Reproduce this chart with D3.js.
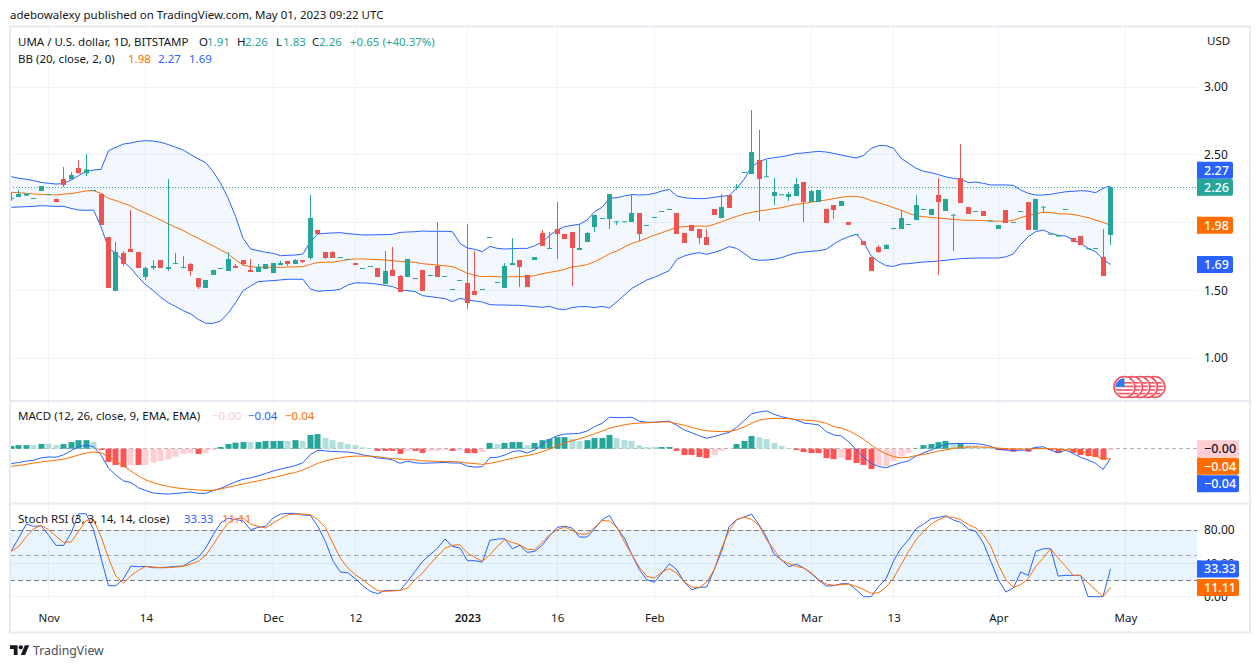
<!DOCTYPE html>
<html>
<head>
<meta charset="utf-8">
<script src="https://cdn.jsdelivr.net/npm/d3@7"></script>
<style>
  html, body { margin: 0; padding: 0; background: #fff; }
  svg { display: block; }
  text { font-family: "Noto Sans", sans-serif; }
</style>
</head>
<body>
<div id="root"></div>
<script>
const opens = [2.176,2.188,2.198,2.176,2.233,2.205,2.174,2.321,2.319,2.402,2.363,2.235,2.210,1.893,1.495,1.775,1.805,1.782,1.598,1.664,1.723,1.657,1.696,1.667,1.694,1.590,1.517,1.613,1.659,1.642,1.679,1.723,1.650,1.635,1.657,1.627,1.686,1.716,1.694,1.723,1.738,1.945,
  1.782,1.782,1.741,1.726,1.701,1.659,1.674,1.664,1.546,1.650,1.605,1.598,1.586,1.650,1.608,1.679,1.600,1.504,1.571,1.554,1.495,1.504,1.888,1.556,1.517,1.686,1.723,1.613,1.723,1.923,1.807,1.952,1.915,1.930,1.797,1.856,1.967,2.028,2.026,2.004,2.004,2.004,
  2.070,1.977,2.036,2.080,2.095,2.070,1.923,1.982,1.952,1.893,2.100,2.033,2.203,2.260,2.368,2.358,2.461,2.336,2.196,2.203,2.188,2.196,2.299,2.151,2.151,2.100,2.129,2.122,2.004,1.910,1.863,1.745,1.819,1.804,1.954,1.952,1.984,2.018,
  2.095,2.055,2.203,2.085,2.053,2.328,2.114,2.080,2.085,2.009,1.952,2.092,1.999,2.080,2.151,1.945,2.112,1.913,1.896,2.095,1.886,1.900,1.805,1.807,1.746,1.908];
const highs = [2.220,2.240,2.213,2.181,2.269,2.210,2.174,2.410,2.373,2.461,2.506,2.240,2.210,1.893,1.856,1.790,2.092,1.782,1.672,1.723,1.723,2.321,1.775,1.753,1.701,1.590,1.576,1.650,1.664,1.782,1.694,1.723,1.731,1.694,1.694,1.701,1.716,1.716,1.731,1.723,2.203,1.945,
  1.782,1.790,1.745,1.731,1.701,1.664,1.679,1.664,1.790,1.819,1.613,1.731,1.590,1.650,1.613,2.004,1.605,1.509,1.576,1.989,1.790,1.509,1.893,1.561,1.701,1.886,1.723,1.613,1.745,1.945,1.930,2.151,1.915,1.930,1.989,1.930,2.055,2.033,2.210,2.009,2.009,2.203,
  2.070,1.982,2.041,2.085,2.100,2.070,1.923,1.982,1.952,1.952,2.100,2.210,2.203,2.284,2.373,2.830,2.683,2.461,2.328,2.208,2.225,2.328,2.299,2.240,2.240,2.100,2.129,2.159,2.004,1.915,1.863,1.745,1.834,1.841,1.959,2.092,1.989,2.203,
  2.100,2.100,2.328,2.174,2.063,2.579,2.114,2.085,2.085,2.014,1.982,2.092,2.004,2.085,2.151,2.174,2.117,1.918,1.905,2.100,1.886,1.900,1.809,1.812,1.952,2.26];
const lows = [2.161,2.188,2.198,2.176,2.233,2.205,2.151,2.260,2.314,2.363,2.343,2.235,1.982,1.517,1.495,1.679,1.782,1.664,1.576,1.650,1.664,1.642,1.694,1.664,1.605,1.509,1.517,1.613,1.659,1.642,1.664,1.679,1.635,1.635,1.657,1.627,1.686,1.679,1.694,1.701,1.723,1.915,
  1.731,1.738,1.741,1.726,1.686,1.659,1.674,1.598,1.546,1.605,1.487,1.598,1.586,1.495,1.608,1.598,1.600,1.504,1.571,1.362,1.465,1.504,1.888,1.556,1.517,1.686,1.524,1.524,1.723,1.827,1.804,1.731,1.878,1.531,1.797,1.856,1.930,2.028,1.952,1.982,2.004,2.004,
  1.863,1.977,2.036,2.080,2.095,1.915,1.849,1.937,1.841,1.834,2.055,2.033,2.107,2.240,2.368,2.358,2.011,2.336,2.129,2.203,2.159,2.196,2.004,2.151,2.151,1.996,2.026,2.122,1.982,1.910,1.834,1.642,1.775,1.804,1.950,1.952,1.984,2.018,
  2.095,2.055,1.613,2.085,1.790,2.144,2.063,2.080,2.048,2.009,1.952,1.996,1.999,2.080,1.945,1.945,2.070,1.913,1.896,2.095,1.856,1.834,1.805,1.807,1.605,1.834];
const closes = [2.181,2.210,2.213,2.181,2.269,2.210,2.151,2.277,2.351,2.363,2.392,2.240,1.982,1.517,1.782,1.694,1.782,1.664,1.664,1.679,1.664,1.672,1.701,1.672,1.642,1.524,1.576,1.650,1.664,1.731,1.664,1.694,1.635,1.672,1.694,1.701,1.701,1.694,1.723,1.709,2.033,1.915,
  1.738,1.738,1.745,1.731,1.686,1.664,1.679,1.598,1.642,1.605,1.487,1.731,1.590,1.495,1.613,1.598,1.605,1.509,1.576,1.406,1.465,1.509,1.893,1.561,1.679,1.701,1.672,1.524,1.745,1.827,1.812,1.915,1.878,1.812,1.812,1.923,2.055,2.033,2.210,2.009,2.009,2.070,
  1.915,1.982,2.041,2.085,2.100,1.915,1.849,1.937,1.886,1.834,2.055,2.114,2.107,2.264,2.373,2.520,2.321,2.341,2.225,2.208,2.210,2.284,2.151,2.232,2.240,1.996,2.092,2.159,1.982,1.915,1.834,1.642,1.782,1.834,1.959,2.033,1.989,2.129,
  2.100,2.100,2.151,2.174,2.058,2.144,2.063,2.085,2.048,2.014,1.982,1.996,2.004,2.085,1.945,2.174,2.117,1.918,1.905,2.100,1.856,1.834,1.809,1.812,1.605,2.26];

const bbUpper = [2.338,2.326,2.319,2.309,2.296,2.289,2.284,2.287,2.314,2.346,2.378,2.387,2.392,2.530,2.555,2.579,2.587,2.599,2.604,2.601,2.592,2.575,2.555,2.535,2.501,2.469,2.442,2.375,2.289,2.178,2.043,1.883,1.805,1.792,1.780,1.773,1.755,1.758,1.760,1.768,1.859,1.915,
  1.920,1.923,1.925,1.918,1.913,1.908,1.908,1.910,1.910,1.913,1.927,1.930,1.932,1.937,1.935,1.935,1.935,1.932,1.846,1.812,1.802,1.785,1.824,1.809,1.804,1.807,1.809,1.809,1.829,1.856,1.905,1.945,1.969,1.979,1.987,2.019,2.080,2.112,2.178,2.183,2.196,2.206,
  2.203,2.205,2.215,2.232,2.245,2.196,2.183,2.178,2.176,2.178,2.186,2.193,2.200,2.252,2.319,2.412,2.449,2.469,2.478,2.486,2.496,2.510,2.513,2.520,2.525,2.520,2.510,2.498,2.486,2.476,2.496,2.547,2.567,2.567,2.547,2.474,2.437,2.400,
  2.378,2.368,2.353,2.336,2.326,2.319,2.294,2.299,2.289,2.277,2.277,2.277,2.274,2.240,2.215,2.203,2.203,2.208,2.218,2.227,2.230,2.235,2.232,2.220,2.252,2.27];
const bbBasis = [2.223,2.220,2.215,2.210,2.208,2.205,2.203,2.210,2.213,2.223,2.233,2.235,2.215,2.178,2.161,2.141,2.122,2.092,2.068,2.043,2.018,1.989,1.964,1.940,1.910,1.883,1.854,1.827,1.797,1.768,1.723,1.686,1.674,1.669,1.672,1.669,1.669,1.672,1.672,1.674,1.691,1.706,
  1.706,1.708,1.716,1.726,1.731,1.731,1.728,1.726,1.723,1.718,1.713,1.711,1.706,1.696,1.691,1.686,1.681,1.674,1.652,1.625,1.610,1.600,1.603,1.600,1.598,1.600,1.600,1.600,1.608,1.622,1.632,1.642,1.654,1.672,1.679,1.689,1.711,1.738,1.770,1.790,1.819,1.846,
  1.863,1.886,1.905,1.925,1.945,1.964,1.969,1.972,1.974,1.972,1.986,2.006,2.026,2.045,2.063,2.075,2.085,2.092,2.102,2.109,2.122,2.134,2.141,2.151,2.159,2.166,2.176,2.186,2.193,2.193,2.183,2.161,2.146,2.129,2.109,2.090,2.068,2.050,
  2.043,2.038,2.033,2.028,2.023,2.018,2.016,2.016,2.014,2.011,2.009,2.009,2.016,2.036,2.053,2.063,2.075,2.073,2.065,2.063,2.060,2.048,2.036,2.018,2.001,1.98];
const bbLower = [2.112,2.114,2.117,2.119,2.124,2.122,2.119,2.119,2.104,2.092,2.090,2.092,1.969,1.809,1.773,1.711,1.662,1.595,1.539,1.497,1.448,1.408,1.379,1.349,1.325,1.285,1.256,1.256,1.273,1.330,1.408,1.497,1.531,1.563,1.568,1.571,1.576,1.581,1.581,1.581,1.509,1.492,
  1.497,1.499,1.507,1.539,1.554,1.554,1.551,1.544,1.536,1.527,1.504,1.497,1.490,1.460,1.453,1.445,1.438,1.416,1.440,1.428,1.421,1.413,1.394,1.391,1.391,1.389,1.389,1.384,1.379,1.374,1.381,1.362,1.357,1.372,1.379,1.379,1.372,1.381,1.369,1.416,1.465,1.514,
  1.544,1.576,1.595,1.620,1.645,1.728,1.753,1.768,1.777,1.765,1.779,1.797,1.822,1.809,1.772,1.731,1.721,1.723,1.728,1.740,1.760,1.775,1.782,1.787,1.792,1.802,1.841,1.873,1.895,1.913,1.851,1.753,1.711,1.681,1.676,1.694,1.696,1.703,
  1.709,1.711,1.716,1.721,1.728,1.733,1.736,1.738,1.738,1.738,1.738,1.746,1.768,1.839,1.895,1.932,1.945,1.920,1.905,1.900,1.871,1.846,1.809,1.785,1.728,1.69];

const macdHist = [0.010,0.013,0.013,0.013,0.017,0.018,0.013,0.017,0.024,0.031,0.031,0.024,-0.005,-0.048,-0.059,-0.067,-0.059,-0.059,-0.059,-0.051,-0.045,-0.038,-0.029,-0.019,-0.016,-0.019,-0.016,-0.005,0.006,0.017,0.022,0.024,0.024,0.024,0.028,0.028,0.028,0.028,0.031,0.028,0.050,0.053,0.039,0.031,0.024,0.017,0.013,0.005,0.002,-0.008,-0.008,-0.008,-0.019,-0.008,-0.008,
  -0.015,-0.008,-0.008,-0.005,-0.008,-0.005,-0.016,-0.016,-0.012,0.021,0.017,0.021,0.024,0.024,0.013,0.021,0.031,0.035,0.042,0.042,0.035,0.028,0.031,0.039,0.039,0.050,0.039,0.031,0.028,0.013,0.006,0.006,0.006,0.006,-0.008,-0.023,-0.023,-0.030,-0.034,-0.023,-0.008,-0.001,0.017,0.028,0.046,0.042,0.035,0.021,0.010,0.002,-0.005,-0.012,-0.016,-0.016,-0.034,-0.038,
  -0.033,-0.041,-0.052,-0.059,-0.074,-0.063,-0.063,-0.045,-0.027,-0.016,0.001,0.013,0.017,0.024,0.028,0.019,0.019,0.013,0.011,0.007,0.002,-0.005,-0.005,-0.011,-0.005,-0.011,0.005,0.002,-0.005,-0.015,-0.005,-0.015,-0.023,-0.027,-0.030,-0.040,-0.005];
// 1 = full colour bar, 0 = pale bar
const macdHistStrong = [1,1,1,0,1,0,0,1,1,1,1,0,1,1,1,1,0,1,0,0,0,0,0,0,0,1,0,0,1,1,1,1,0,1,1,1,1,0,1,0,1,1,0,0,0,0,0,0,0,1,1,1,1,0,1,
  1,0,0,0,1,0,1,1,0,1,0,1,1,1,0,1,1,1,1,1,0,0,1,1,1,1,0,0,0,0,0,0,1,1,1,1,1,1,1,0,0,0,1,1,1,0,0,0,0,0,1,1,1,1,1,1,
  0,1,1,1,1,0,0,0,0,0,1,1,1,1,1,0,1,0,0,0,0,1,1,1,0,1,1,0,1,1,0,1,1,1,1,1,0];
const macdLine = [-0.054,-0.050,-0.045,-0.042,-0.033,-0.030,-0.031,-0.022,-0.007,0.007,0.013,0.007,-0.023,-0.071,-0.096,-0.117,-0.123,-0.142,-0.152,-0.161,-0.163,-0.165,-0.162,-0.160,-0.157,-0.162,-0.162,-0.152,-0.144,-0.132,-0.120,-0.111,-0.106,-0.099,-0.090,-0.081,-0.074,-0.068,-0.061,-0.051,-0.021,-0.006,-0.008,-0.010,-0.011,-0.012,-0.016,-0.022,-0.027,-0.034,-0.036,-0.041,-0.053,-0.045,-0.051,
  -0.053,-0.052,-0.051,-0.050,-0.052,-0.052,-0.063,-0.067,-0.065,-0.033,-0.031,-0.023,-0.011,-0.007,-0.015,-0.005,0.016,0.034,0.047,0.053,0.054,0.056,0.064,0.080,0.092,0.114,0.113,0.113,0.114,0.100,0.096,0.096,0.098,0.100,0.085,0.068,0.058,0.047,0.038,0.044,0.052,0.059,0.077,0.102,0.127,0.133,0.137,0.125,0.116,0.110,0.104,0.093,0.090,0.086,0.062,0.050,
  0.046,0.025,-0.005,-0.031,-0.053,-0.065,-0.069,-0.059,-0.051,-0.044,-0.027,-0.015,-0.005,0.007,0.016,0.019,0.019,0.019,0.018,0.015,0.008,-0.002,-0.005,-0.007,-0.005,-0.005,0.005,0.007,-0.005,-0.015,-0.005,-0.017,-0.031,-0.041,-0.053,-0.075,-0.036];
const macdSignal = [-0.064,-0.061,-0.057,-0.052,-0.048,-0.045,-0.042,-0.038,-0.031,-0.023,-0.016,-0.012,-0.015,-0.029,-0.045,-0.063,-0.081,-0.099,-0.114,-0.123,-0.131,-0.137,-0.142,-0.145,-0.148,-0.150,-0.152,-0.151,-0.146,-0.140,-0.134,-0.128,-0.122,-0.117,-0.111,-0.105,-0.099,-0.092,-0.086,-0.077,-0.065,-0.053,-0.044,-0.038,-0.033,-0.029,-0.027,-0.027,-0.027,-0.029,-0.033,-0.036,-0.038,-0.039,-0.041,
  -0.044,-0.045,-0.046,-0.047,-0.047,-0.048,-0.052,-0.054,-0.057,-0.053,-0.048,-0.041,-0.035,-0.029,-0.025,-0.019,-0.011,-0.001,0.011,0.021,0.029,0.036,0.045,0.054,0.064,0.074,0.081,0.087,0.091,0.093,0.094,0.096,0.097,0.097,0.091,0.085,0.077,0.070,0.065,0.063,0.062,0.063,0.068,0.079,0.092,0.104,0.108,0.110,0.110,0.109,0.106,0.104,0.102,0.099,0.092,0.080,
  0.075,0.065,0.051,0.034,0.013,-0.005,-0.019,-0.029,-0.033,-0.031,-0.025,-0.021,-0.015,-0.008,-0.004,0.001,0.005,0.006,0.007,0.006,0.005,0.002,0,-0.001,-0.001,-0.002,0,0.001,0,-0.002,-0.004,-0.005,-0.011,-0.017,-0.027,-0.038,-0.036];

const stochK = [55.2,70.4,87.2,84.4,85.2,73.6,61.6,61.6,76.4,99.6,99.6,80.4,46.4,13.2,13.2,21.6,36.8,36,36.4,34.8,34.8,35.6,36.4,36.8,42.4,47.2,58.4,74.4,88.4,94.4,92.4,91.2,80.4,83.2,84.4,94.4,99.2,100,100,98,97.6,84.4,66.4,43.2,29.6,28.8,21.6,13.2,6.4,3.6,7.6,7.6,7.6,18.4,30.4,
  42.4,50.4,58.4,69.2,60.4,58.4,43.2,43.2,41.6,67.6,69.2,69.6,57.6,61.6,53.2,54.4,61.6,73.2,83.2,84.8,82.4,71.6,71.6,81.6,92.4,97.6,82.4,70.4,50.4,32.4,20.4,17.2,28.4,39.6,32.4,17.6,8.4,11.2,11.6,32.4,54.4,84.4,92.4,95.6,99.2,86.4,71.6,51.2,44.4,36,39.2,34.4,27.6,19.6,12.8,13.2,
  15.6,15.6,8.4,0,0,12.4,21.6,43.2,58.4,68.4,81.6,87.2,93.6,95.2,97.2,92,89.2,81.2,78.4,64.4,42.4,20.4,5.6,10.4,29.6,25.6,54.4,57.6,57.6,24.8,25.6,25.6,25.6,0,0,0,33.33];
const stochD = [54.4,60.4,72,81.6,85.6,80.4,72.4,65.2,65.6,78.4,91.6,92.4,72.4,46.4,24.4,16.4,25.2,31.6,36.4,35.6,34.8,34.8,35.6,36.4,39.2,42.4,49.6,62.4,76.4,88.4,93.6,94.4,87.2,84.4,82.4,88.4,93.6,98.4,99.2,99.2,98.4,92.4,83.2,64.4,46.4,34.4,26.4,20.4,13.2,7.2,6.4,6.8,7.6,10.4,20.4,
  28.4,39.2,48.4,58.4,61.6,62.4,52.4,47.2,42.4,50.4,60.4,68.4,65.2,62.4,56.8,56.4,65.2,74.4,80.4,83.6,79.6,75.2,75.2,83.2,91.6,90.8,83.6,65.6,50.4,35.2,24.4,22.4,29.6,33.6,28.4,17.6,11.6,10.8,17.6,32.4,58.4,79.2,92.4,95.6,92.8,85.6,68.4,56.4,43.6,39.6,36.4,34.4,28.4,20.4,15.2,13.6,
  14.4,15.2,12.4,8.4,4,4.8,11.6,22.4,38.4,54.4,68.4,78.4,87.2,92.4,96,95.2,92.4,86.4,82.4,74.4,60.4,38.4,20.4,11.2,14.4,21.6,36.4,46.4,57.6,46.4,36.4,25.6,25.6,16.4,8.4,0,11.11];

const timeIdx = [5,18,35,46,61,73,86,107,118,132,149];
const timeLabels = ["Nov","14","Dec","12","2023","16","Feb","Mar","13","Apr","May"];
const priceTicks = [3,2.5,2,1.5,1];
const priceLabelTicks = [3,2.5,1.5,1];
const stochTicks = [80,40,0];
const stochBands = [80,50,20];
const flagIdx = [149,150,151,152,153];

const w = 1260;
const h = 668;
const plotL = 10;
const plotR = 1197;
const frameR = 1250;
const green = "#26a69a";
const red = "#ef5350";
const blue = "#2962ff";
const orange = "#ff6d00";
const inkColor = "#131722";
const gridColor = "#f0f3fa";
const frameColor = "#e8eaf2";
const font = 11.5;

const svg = d3.select("#root")
  .append("svg")
  .attr("width", w)
  .attr("height", h);

const x = d3.scaleLinear().domain([0, 147]).range([11.3, 1110.5]);
const yPrice = d3.scaleLinear().domain([1, 3]).range([358, 87]);
const yMacd = d3.scaleLinear().domain([-0.2, 0.2]).range([503.8, 393.6]);
const yStoch = d3.scaleLinear().domain([0, 100]).range([596.7, 513.4]);
const pixel = v => Math.round(v - 0.5) + 0.5;

function addClip(id, top, bottom) {
  svg.append("clipPath").attr("id", id)
    .append("rect")
    .attr("x", plotL).attr("y", top)
    .attr("width", plotR - plotL).attr("height", bottom - top);
}
addClip("clip-price", 27, 400);
addClip("clip-macd", 402, 503);
addClip("clip-stoch", 505, 600);

// vertical grid runs through all panes
svg.append("g").selectAll("line")
  .data(timeIdx)
  .enter()
  .append("line")
  .attr("x1", d => pixel(x(d)))
  .attr("x2", d => pixel(x(d)))
  .attr("y1", 27)
  .attr("y2", 600)
  .attr("stroke", gridColor);

function hGrid(ticks, scale) {
  svg.append("g").selectAll("line")
    .data(ticks)
    .enter()
    .append("line")
    .attr("x1", plotL)
    .attr("x2", plotR)
    .attr("y1", d => pixel(scale(d)))
    .attr("y2", d => pixel(scale(d)))
    .attr("stroke", gridColor);
}
hGrid(priceTicks, yPrice);
hGrid(stochTicks, yStoch);

// price pane
const pricePane = svg.append("g").attr("clip-path", "url(#clip-price)");

pricePane.append("path")
  .datum(d3.range(opens.length))
  .attr("fill", "#2979ff")
  .attr("fill-opacity", 0.055)
  .attr("d", d3.area().x(i => x(i)).y0(i => yPrice(bbLower[i])).y1(i => yPrice(bbUpper[i])));

function drawLine(parent, values, scale, color, width) {
  parent.append("path")
    .datum(values)
    .attr("fill", "none")
    .attr("stroke", color)
    .attr("stroke-width", width)
    .attr("d", d3.line().x((d, i) => x(i)).y(d => scale(d)));
}
drawLine(pricePane, bbUpper, yPrice, blue, 1);
drawLine(pricePane, bbLower, yPrice, blue, 1);
drawLine(pricePane, bbBasis, yPrice, orange, 1);

pricePane.append("line")
  .attr("x1", plotL)
  .attr("x2", plotR)
  .attr("y1", pixel(yPrice(2.26)))
  .attr("y2", pixel(yPrice(2.26)))
  .attr("stroke", green)
  .attr("stroke-dasharray", "1 2");

const candleColor = i => closes[i] >= opens[i] ? green : red;

pricePane.append("g").selectAll("line")
  .data(d3.range(opens.length))
  .enter()
  .append("line")
  .attr("x1", i => pixel(x(i)))
  .attr("x2", i => pixel(x(i)))
  .attr("y1", i => yPrice(highs[i]))
  .attr("y2", i => yPrice(lows[i]))
  .attr("stroke", candleColor);

pricePane.append("g").selectAll("rect")
  .data(d3.range(opens.length))
  .enter()
  .append("rect")
  .attr("x", i => pixel(x(i)) - 2.5)
  .attr("width", 5)
  .attr("y", i => yPrice(Math.max(opens[i], closes[i])))
  .attr("height", i => Math.max(1, Math.abs(yPrice(opens[i]) - yPrice(closes[i]))))
  .attr("fill", candleColor);

// event flags, leftmost sits on top
const flags = svg.append("g");
flagIdx.slice().reverse().forEach(d => {
  const cx = x(d) - 1;
  const cy = 387;
  const id = "flag-" + d;
  svg.append("clipPath").attr("id", id)
    .append("circle").attr("cx", cx).attr("cy", cy).attr("r", 9);
  const flag = flags.append("g");
  flag.append("circle").attr("cx", cx).attr("cy", cy).attr("r", 10.5)
    .attr("fill", "#fff").attr("stroke", "#f7525f").attr("stroke-width", 1.6);
  const inner = flag.append("g").attr("clip-path", `url(#${id})`);
  d3.range(4).forEach(k => {
    inner.append("rect")
      .attr("x", cx - 10).attr("width", 20)
      .attr("y", cy - 5 + k * 3.6).attr("height", 1.6)
      .attr("fill", "#f7525f");
  });
  inner.append("rect")
    .attr("x", cx - 10).attr("y", cy - 10)
    .attr("width", 10).attr("height", 10)
    .attr("fill", "#3179f5");
});

// macd pane
const macdPane = svg.append("g").attr("clip-path", "url(#clip-macd)");

macdPane.append("line")
  .attr("x1", plotL)
  .attr("x2", plotR)
  .attr("y1", pixel(yMacd(0)))
  .attr("y2", pixel(yMacd(0)))
  .attr("stroke", "#787b86")
  .attr("stroke-opacity", 0.6)
  .attr("stroke-dasharray", "4 3");

macdPane.append("g").selectAll("rect")
  .data(macdHist)
  .enter()
  .append("rect")
  .attr("x", (d, i) => pixel(x(i)) - 3)
  .attr("width", 6)
  .attr("y", d => yMacd(Math.max(d, 0)))
  .attr("height", d => Math.abs(yMacd(d) - yMacd(0)))
  .attr("fill", (d, i) => {
    if (d >= 0) return macdHistStrong[i] ? green : "#b2dfdb";
    return macdHistStrong[i] ? "#ff5252" : "#ffcdd2";
  });

drawLine(macdPane, macdLine, yMacd, blue, 1);
drawLine(macdPane, macdSignal, yMacd, orange, 1);

// stoch pane
const stochPane = svg.append("g").attr("clip-path", "url(#clip-stoch)");

stochPane.append("rect")
  .attr("x", plotL)
  .attr("width", plotR - plotL)
  .attr("y", yStoch(80))
  .attr("height", yStoch(20) - yStoch(80))
  .attr("fill", "#2196f3")
  .attr("fill-opacity", 0.1);

stochPane.append("g").selectAll("line")
  .data(stochBands)
  .enter()
  .append("line")
  .attr("x1", plotL)
  .attr("x2", plotR)
  .attr("y1", d => pixel(yStoch(d)))
  .attr("y2", d => pixel(yStoch(d)))
  .attr("stroke", "#787b86")
  .attr("stroke-opacity", d => d === 50 ? 0.6 : 1)
  .attr("stroke-dasharray", "5 3");

drawLine(stochPane, stochK, yStoch, blue, 1);
drawLine(stochPane, stochD, yStoch, orange, 1);

// frame and pane separators
svg.append("rect")
  .attr("x", 10)
  .attr("y", 26.5)
  .attr("width", frameR - 10)
  .attr("height", 606)
  .attr("fill", "none")
  .attr("stroke", frameColor)
  .attr("stroke-width", 2);

svg.append("g").selectAll("line")
  .data([401, 503.5])
  .enter()
  .append("line")
  .attr("x1", 10)
  .attr("x2", frameR)
  .attr("y1", d => d)
  .attr("y2", d => d)
  .attr("stroke", frameColor)
  .attr("stroke-width", 2);

// axes
function rightAxis(scale, ticks) {
  const axis = svg.append("g")
    .attr("transform", `translate(${plotR}, 0)`)
    .call(d3.axisRight(scale).tickValues(ticks).tickSize(0).tickPadding(7).tickFormat(d3.format(".2f")));
  axis.select(".domain").remove();
  axis.selectAll("text").attr("fill", inkColor).style("font-size", "12px").style("font-family", '"Noto Sans", sans-serif');
}
rightAxis(yPrice, priceLabelTicks);
rightAxis(yStoch, stochTicks);

const timeAxis = svg.append("g")
  .attr("transform", "translate(0, 611)")
  .call(d3.axisBottom(x).tickValues(timeIdx).tickSize(0).tickPadding(3).tickFormat((d, i) => timeLabels[i]));
timeAxis.select(".domain").remove();
timeAxis.selectAll("text")
  .attr("fill", inkColor)
  .style("font-size", font + "px")
  .style("font-family", '"Noto Sans", sans-serif')
  .style("font-weight", d => d === 61 ? 600 : 400);

// last value tags, square on the axis side and rounded on the other
function tag(cy, width, color, label, textColor) {
  svg.append("rect")
    .attr("x", plotR)
    .attr("y", cy - 8.5)
    .attr("width", width)
    .attr("height", 17)
    .attr("rx", 2)
    .attr("fill", color);
  svg.append("rect")
    .attr("x", plotR)
    .attr("y", cy - 8.5)
    .attr("width", 4)
    .attr("height", 17)
    .attr("fill", color);
  svg.append("text")
    .attr("x", plotR + 7)
    .attr("y", cy + 4.5)
    .attr("font-size", 12.5)
    .attr("font-weight", 500)
    .attr("fill", textColor)
    .text(label);
}
tag(yPrice(2.26) - 17, 36, blue, "2.27", "#fff");
tag(yPrice(2.26), 36, green, "2.26", "#fff");
tag(yPrice(1.98), 36, orange, "1.98", "#fff");
tag(yPrice(1.69), 36, blue, "1.69", "#fff");
tag(yMacd(0), 42, "#ffcdd2", "\u22120.00", inkColor);
tag(yMacd(0) + 17.5, 42, orange, "\u22120.04", "#fff");
tag(yMacd(0) + 35, 42, blue, "\u22120.04", "#fff");
tag(yStoch(33.33), 42, blue, "33.33", "#fff");
tag(yStoch(11.11), 42, orange, "11.11", "#fff");

// header and legends
function label(px, py, str, color) {
  svg.append("text")
    .attr("x", px)
    .attr("y", py)
    .attr("font-size", font)
    .attr("fill", color || inkColor)
    .text(str);
}
label(10, 19, "adebowalexy published on TradingView.com, May 01, 2023 09:22 UTC");
label(18, 46, "UMA / U.S. dollar, 1D, BITSTAMP");
label(199, 46, "O");
label(207, 46, "1.91", green);
label(237, 46, "H");
label(245, 46, "2.26", green);
label(276, 46, "L");
label(283, 46, "1.83", green);
label(312, 46, "C");
label(319, 46, "2.26", green);
label(350, 46, "+0.65 (+40.37%)", green);
label(18, 63, "BB (20, close, 2, 0)");
label(128, 63, "1.98", orange);
label(158, 63, "2.27", blue);
label(189, 63, "1.69", blue);
label(1207, 45, "USD");
label(18, 420, "MACD (12, 26, close, 9, EMA, EMA)");
label(212, 420, "\u22120.00", "#ffcdd2");
label(248, 420, "\u22120.04", blue);
label(285, 420, "\u22120.04", orange);
label(18, 523, "Stoch RSI (3, 3, 14, 14, close)");
label(184, 523, "33.33", blue);
label(222, 523, "11.11", orange);

// logo
const logo = svg.append("g").attr("transform", "translate(10, 643) scale(0.54)").attr("fill", inkColor);
logo.append("path").attr("d", "M14 22H7V11H0V4h14v18zM28 22h-8l7.5-18h8L28 22z");
logo.append("circle").attr("cx", 20).attr("cy", 8).attr("r", 4);
svg.append("text")
  .attr("x", 33)
  .attr("y", 655)
  .attr("font-size", 12.3)
  .attr("fill", "#4a4e5a")
  .text("TradingView");
</script>
</body>
</html>
